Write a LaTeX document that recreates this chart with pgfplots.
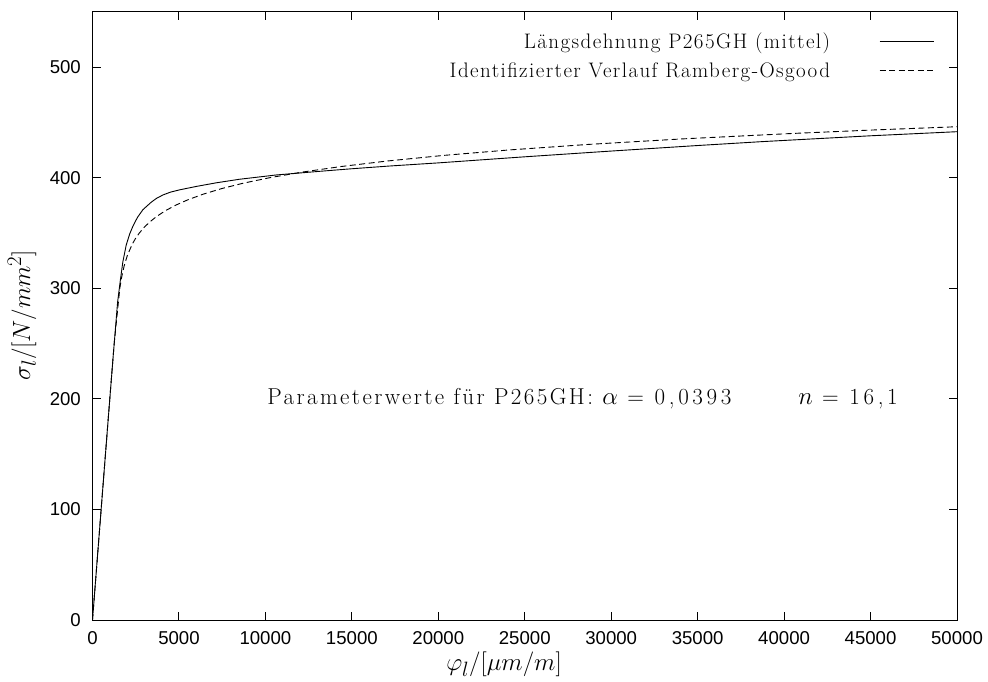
\documentclass[border=0pt]{standalone}
\usepackage{fontspec}
\usepackage{pgfplots}
\pgfplotsset{compat=1.18}
\newfontfamily\ticksf{Liberation Sans}
\newfontfamily\legsp[LetterSpace=6.8]{Latin Modern Roman}
\newfontfamily\parsp[LetterSpace=10.5]{Latin Modern Roman}
\newfontfamily\numsp[LetterSpace=16]{Latin Modern Roman}
\begin{document}
\begin{tikzpicture}
\useasboundingbox (-92.5pt,-62pt) rectangle (895.5pt,620pt);
\begin{axis}[
  at={(0pt,0pt)}, anchor=south west,
  scale only axis, width=864.5pt, height=608.3pt,
  xmin=0, xmax=50000, ymin=0, ymax=550,
  xtick={0,5000,...,50000}, ytick={0,100,...,500},
  scaled x ticks=false, scaled y ticks=false,
  /pgf/number format/.cd, fixed, 1000 sep={}, assume math mode=true, /pgfplots/.cd,
  tick align=inside, major tick length=8pt,
  tick style={black, line width=0.9pt},
  axis line style={black, line width=0.9pt},
  ticklabel style={font=\ticksf\fontsize{18.6}{20}\selectfont, inner sep=0pt},
  xticklabel shift=11.5pt, yticklabel shift=11.5pt,
  xlabel={$\varphi_l/[\mu m/m]$},
  ylabel={$\sigma_l/[N/mm^2]$},
  label style={font=\fontsize{28}{30}\selectfont},
  xlabel style={at={(axis description cs:0.476,-0.0723)}, anchor=center, font=\fontsize{29.5}{30}\selectfont},
  ylabel style={at={(axis description cs:-0.0816,0.501)}, anchor=center, rotate=0},
  legend style={draw=none, fill=none, at={(rel axis cs:0.9734,0.968)}, anchor=north east,
    inner sep=0pt, outer sep=0pt, font=\legsp\fontsize{21}{24}\selectfont, row sep=8pt,
    /tikz/every odd column/.append style={column sep=47pt}},
  legend plot pos=right,
  legend cell align=right,
  legend image code/.code={\draw[#1] (0pt,0pt) -- (54pt,0pt);},
]
\addplot[black, line width=0.9pt] coordinates {
(0,0) (300,60) (600,120) (900,180) (1178,235) (1450,287) (1600,306) (1757,324)
(1950,339) (2150,349) (2336,356) (2600,364) (2916,371) (3400,377.8) (3700,381.2)
(4075,384.3) (4500,386.8) (5000,388.8) (6000,392) (7165,395.3) (8500,398.5)
(10640,402.4) (13000,405.5) (15000,408) (17210,410.5) (20000,413.3) (25000,418.8)
(30000,424) (35000,429) (38700,432.5) (40000,433.6) (45000,437.8) (50000,441.5)
};
\addlegendentry{Längsdehnung P265GH (mittel)}
\addplot[black, line width=0.9pt, dash pattern=on 6pt off 3.5pt] coordinates {
(0,0) (500,100) (1000,200) (1254,250) (1581,300) (1687,310) (1828,320) (2024,330)
(2305,340) (2490,345) (2715,350) (2987,355) (3319,360) (3721,365) (4210,370)
(4804,375) (5526,380) (6400,385) (7458,390) (8737,395) (10280,400) (12138,405)
(14372,410) (17052,415) (20263,420) (24101,425) (28679,430) (34128,435)
(40611,440) (45072,443) (50000,446)
};
\addlegendentry{Identifizierter Verlauf Ramberg-Osgood}
\node[anchor=west, inner sep=0pt, font=\parsp\fontsize{23}{28}\selectfont] at (axis cs:10100,200)
  {Parameterwerte für P265GH: $\alpha$ {\numsp = 0,0393}\hspace{2.9em}$n$ {\numsp = 16,1}};
\end{axis}
\end{tikzpicture}
\end{document}
